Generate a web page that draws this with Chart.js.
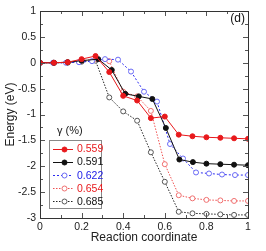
<!DOCTYPE html>
<html><head><meta charset="utf-8">
<script src="https://cdn.jsdelivr.net/npm/chart.js@4.4.1/dist/chart.umd.min.js"></script>
<style>html,body{margin:0;padding:0;background:#fff;}#wrap{width:266px;height:251px;}</style>
</head><body><div id="wrap"><canvas id="c" width="266" height="251"></canvas></div>
<script>
const seriesLabels = ['0.559','0.591','0.622','0.654','0.685'];
const legendTitle = 'γ (%)';
const xTitle = 'Reaction coordinate';
const yTitle = 'Energy (eV)';
const panelTag = '(d)';

const xRed   = [0,0.067,0.133,0.2,0.267,0.333,0.4,0.467,0.533,0.6,0.667,0.733,0.8,0.867,0.933,1];
const yRed   = [0,0,0.01,0.07,0.13,-0.18,-0.64,-0.73,-1.07,-1.04,-1.39,-1.42,-1.44,-1.45,-1.46,-1.47];
const xBlack = [0,0.067,0.133,0.2,0.28,0.345,0.41,0.475,0.54,0.605,0.67,0.735,0.8,0.867,0.933,1];
const yBlack = [0,0,0.01,0.04,0.07,-0.14,-0.6,-0.65,-0.7,-1.26,-1.87,-1.92,-1.95,-1.96,-1.97,-1.98];
const xBlue  = [0,0.0625,0.125,0.1875,0.25,0.3125,0.375,0.4375,0.5,0.5625,0.625,0.6875,0.75,0.8125,0.875,0.9375,1];
const yBlue  = [0,0,0,0.01,0.03,0.07,0.06,-0.17,-0.56,-0.75,-1.57,-1.85,-2.12,-2.14,-2.16,-2.17,-2.17];
const xPink  = [0,0.067,0.133,0.2,0.267,0.333,0.4,0.467,0.533,0.6,0.667,0.733,0.8,0.867,0.933,1];
const yPink  = [0,0,0.01,0.04,0.07,0.03,-0.56,-0.65,-0.93,-1.96,-2.56,-2.62,-2.65,-2.66,-2.67,-2.67];
const xGray  = [0,0.067,0.133,0.2,0.267,0.333,0.4,0.467,0.533,0.6,0.667,0.733,0.8,0.867,0.933,1];
const yGray  = [0,0,0,0.02,0.04,-0.67,-0.94,-1.12,-1.73,-2.30,-2.88,-2.91,-2.92,-2.93,-2.94,-2.94];

const pts = (xs, ys) => xs.map((x, i) => ({x, y: ys[i]}));
const FONT = "'Liberation Sans', Arial, sans-serif";

const styles = [
  {line:'#e8191c', fill:'#e8191c', point:'#e8191c', dash:[], text:'#e8191c'},
  {line:'#111111', fill:'#111111', point:'#111111', dash:[], text:'#111111'},
  {line:'#2b2bf0', fill:'#ffffff', point:'#6a6af5', dash:[2,2], text:'#2020e8'},
  {line:'#f05050', fill:'#ffffff', point:'#f07070', dash:[1.5,1.5], text:'#e8191c'},
  {line:'#222222', fill:'#ffffff', point:'#555555', dash:[1.5,1.5], text:'#111111'}
];
const dataSets = [pts(xRed,yRed), pts(xBlack,yBlack), pts(xBlue,yBlue), pts(xPink,yPink), pts(xGray,yGray)];

const datasets = dataSets.map((d, i) => ({
  label: seriesLabels[i],
  data: d,
  showLine: true,
  borderColor: styles[i].line,
  borderWidth: 1,
  borderDash: styles[i].dash,
  pointRadius: 2.5,
  pointBorderWidth: 1,
  pointBackgroundColor: styles[i].fill,
  pointBorderColor: styles[i].point,
  tension: 0
}));

const framePlugin = {
  id: 'frame',
  afterDraw(chart) {
    const {ctx, chartArea: a, scales} = chart;
    const xs = scales.x, ys = scales.y;
    ctx.save();
    ctx.strokeStyle = '#555';
    ctx.lineWidth = 1;
    ctx.setLineDash([]);
    ctx.beginPath();
    for (let k = 0; k <= 10; k++) {
      const v = k / 10;
      const px = Math.round(xs.getPixelForValue(v)) + 0.5;
      const len = (k % 2 === 0) ? 5 : 3;
      ctx.moveTo(px, a.bottom); ctx.lineTo(px, a.bottom - len);
      ctx.moveTo(px, a.top); ctx.lineTo(px, a.top + len);
    }
    for (let k = 0; k <= 16; k++) {
      const v = -3 + k * 0.25;
      const py = Math.round(ys.getPixelForValue(v)) + 0.5;
      const len = (k % 2 === 0) ? 5 : 3;
      ctx.moveTo(a.left, py); ctx.lineTo(a.left + len, py);
      ctx.moveTo(a.right, py); ctx.lineTo(a.right - len, py);
    }
    ctx.stroke();
    ctx.strokeStyle = '#333';
    ctx.strokeRect(Math.round(a.left) + 0.5, Math.round(a.top) + 0.5, Math.round(a.right - a.left), Math.round(a.bottom - a.top));

    // panel tag
    ctx.fillStyle = '#111';
    ctx.font = '12px ' + FONT;
    ctx.textAlign = 'right';
    ctx.textBaseline = 'top';
    ctx.fillText(panelTag, a.right - 3, a.top + 2);

    // legend
    const bx = 49.5, by = 140.5, bw = 52, bh = 68;
    ctx.fillStyle = '#fff';
    ctx.fillRect(bx, by, bw, bh);
    ctx.strokeStyle = '#888';
    ctx.strokeRect(bx, by, bw, bh);
    ctx.fillStyle = '#222';
    ctx.font = '11px ' + FONT;
    ctx.textAlign = 'left';
    ctx.textBaseline = 'middle';
    ctx.fillText(legendTitle, 57, 131);
    chart.data.datasets.forEach((ds, i) => {
      const y = 149 + i * 13.1;
      ctx.strokeStyle = ds.borderColor;
      ctx.setLineDash(ds.borderDash);
      ctx.beginPath(); ctx.moveTo(53, Math.round(y) + 0.5); ctx.lineTo(73, Math.round(y) + 0.5); ctx.stroke();
      ctx.setLineDash([]);
      ctx.beginPath(); ctx.arc(64.5, Math.round(y) + 0.5, 2.5, 0, Math.PI * 2);
      ctx.fillStyle = ds.pointBackgroundColor; ctx.fill();
      ctx.strokeStyle = ds.pointBorderColor; ctx.stroke();
      ctx.fillStyle = styles[i].text;
      ctx.font = '10.5px ' + FONT;
      ctx.fillText(ds.label, 77, y + 0.5);
    });
    ctx.restore();
  }
};

new Chart(document.getElementById('c'), {
  type: 'scatter',
  data: {datasets},
  options: {
    responsive: false,
    animation: false,
    devicePixelRatio: 1,
    layout: {padding: {top: 11, right: 18, left: 0, bottom: 0}},
    plugins: {legend: {display: false}, tooltip: {enabled: false}},
    scales: {
      x: {
        type: 'linear', min: 0, max: 1,
        grid: {display: false, drawTicks: false},
        border: {display: false},
        afterFit(s) { s.height = 33; },
        ticks: {stepSize: 0.2, padding: 3, color: '#222', font: {family: FONT, size: 10.5},
                callback: v => String(+v.toFixed(1)), maxRotation: 0},
        title: {display: true, text: xTitle, color: '#222', font: {family: FONT, size: 12}, padding: {top: 0, bottom: 6}}
      },
      y: {
        type: 'linear', min: -3, max: 1,
        grid: {display: false, drawTicks: false},
        border: {display: false},
        afterFit(s) { s.width = 40; },
        ticks: {stepSize: 0.5, padding: 4, color: '#222', font: {family: FONT, size: 10.5},
                callback: v => String(+v.toFixed(1))},
        title: {display: true, text: yTitle, color: '#222', font: {family: FONT, size: 12}, padding: {top: 3, bottom: 0}}
      }
    }
  },
  plugins: [framePlugin]
});
</script>
</body></html>
